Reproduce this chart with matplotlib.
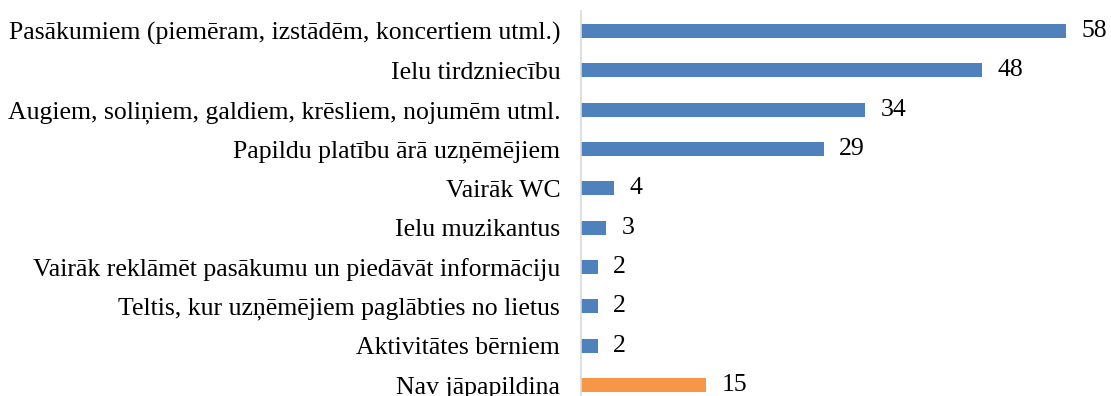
import matplotlib.pyplot as plt

kategorijas = ['Pasākumiem (piemēram, izstādēm, koncertiem utml.)',
               'Ielu tirdzniecību',
               'Augiem, soliņiem, galdiem, krēsliem, nojumēm utml.',
               'Papildu platību ārā uzņēmējiem',
               'Vairāk WC',
               'Ielu muzikantus',
               'Vairāk reklāmēt pasākumu un piedāvāt informāciju',
               'Teltis, kur uzņēmējiem paglābties no lietus',
               'Aktivitātes bērniem',
               'Nav jāpapildina']
skaits = [58, 48, 34, 29, 4, 3, 2, 2, 2, 15]
krasas = ['#4F81BD'] * 9 + ['#F79646']

plt.rcParams['font.family'] = ['Liberation Serif', 'DejaVu Serif']

fig = plt.figure(figsize=(11.11, 3.96), dpi=100)
ax = fig.add_axes([0.523, -0.022, 0.4515, 0.9935])

y = range(len(kategorijas))
ax.barh(y, skaits, height=0.36, color=krasas)
for i, v in enumerate(skaits):
    ax.annotate(str(v), (v, i), xytext=(11, 0), textcoords='offset points',
                va='center', ha='left', fontsize=18.5)

ax.set_yticks(list(y))
ax.set_yticklabels(kategorijas, fontsize=18.5)
ax.set_ylim(9.5, -0.5)
ax.set_xlim(0, 60)
ax.set_xticks([])
ax.tick_params(axis='y', length=0, pad=15)
for s in ['top', 'right', 'bottom']:
    ax.spines[s].set_visible(False)
ax.spines['left'].set_color('#D9D9D9')
ax.spines['left'].set_linewidth(1.2)

fig.savefig('out.png', dpi=100)
